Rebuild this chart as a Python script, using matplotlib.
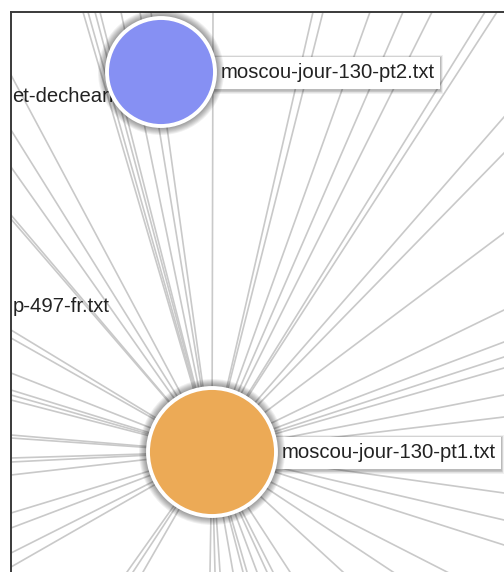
import matplotlib
matplotlib.use("Agg")
import matplotlib.pyplot as plt
from matplotlib.patches import Circle, Rectangle
import numpy as np

# ---------------- data (pixel space of the view) ----------------
node_names = ["moscou-jour-130-pt1.txt", "moscou-jour-130-pt2.txt"]
node_x = [212, 161]
node_y = [452, 72]
node_r = [64, 54]
node_colors = ["#ECAA56", "#8690F3"]

# points where the hub's edges leave the visible frame
top_x = [83, 88, 95, 100, 121, 140, 151, 213, 313, 323, 370, 403, 432, 485, 497]
right_y = [117, 153, 233, 310, 342, 357, 368, 395, 417, 493, 520, 545]
bottom_x = [127, 133, 143, 210, 215, 220, 233, 243, 247, 257, 267, 273, 290, 343, 393, 447]
left_y = [75, 130, 167, 215, 219, 330, 338, 373, 390, 395, 400, 435, 438, 458, 462,
          475, 513, 528, 553, 567]

offscreen_labels = ["et-decheance.txt", "p-497-fr.txt"]
offscreen_label_x = [12, 13]
offscreen_label_y = [97, 306]

# ---------------- figure ----------------
W, H = 504, 572
X0, Y0 = 11, 12
fig = plt.figure(figsize=(W / 100, H / 100), dpi=100)
ax = fig.add_axes([X0 / W, 0, (W - X0) / W, (H - Y0) / H])
ax.set_xlim(X0, W)
ax.set_ylim(H, Y0)
ax.set_xticks([])
ax.set_yticks([])
for s in ["right", "bottom"]:
    ax.spines[s].set_visible(False)
for s in ["left", "top"]:
    ax.spines[s].set_color("#3a3a3a")
    ax.spines[s].set_linewidth(1.4)

font = "Liberation Sans"
fs = 14.6
hx, hy = node_x[0], node_y[0]

targets = ([(x, Y0) for x in top_x] + [(W, y) for y in right_y] +
           [(x, H) for x in bottom_x] + [(X0, y) for y in left_y])
for tx, ty in targets:
    ex = hx + 3 * (tx - hx)
    ey = hy + 3 * (ty - hy)
    ax.plot([hx, ex], [hy, ey], color="#c9c9c9", lw=1.2, zorder=1,
            solid_capstyle="butt")

for lab, lx, ly in zip(offscreen_labels, offscreen_label_x, offscreen_label_y):
    ax.text(lx, ly, lab, fontsize=fs, family=font, color="#222222",
            ha="left", va="center", zorder=2, clip_on=True)

for name, cx, cy, r, col in zip(node_names, node_x, node_y, node_r, node_colors):
    # label box with soft shadow
    tx = cx + r + 6
    t = ax.text(tx, cy + 1, name, fontsize=fs, family=font, color="#222222",
                ha="left", va="center", zorder=6)
    fig.canvas.draw()
    bb = t.get_window_extent().transformed(ax.transData.inverted())
    bx0 = cx
    bx1 = max(bb.x0, bb.x1) + 5
    by0 = cy - 15
    by1 = cy + 17
    for k in range(5, 0, -1):
        ax.add_patch(Rectangle((bx0 - k * 0.5, by0 - k * 0.6 + 1), bx1 - bx0 + k * 1.0,
                               by1 - by0 + k * 1.4, facecolor="black", alpha=0.06,
                               edgecolor="none", zorder=3))
    ax.add_patch(Rectangle((bx0, by0), bx1 - bx0, by1 - by0, facecolor="white",
                           edgecolor="none", zorder=3.5))
    # circle glow shadow
    for k in range(8, 0, -1):
        ax.add_patch(Circle((cx, cy), r + 1 + k, facecolor="black", alpha=0.06,
                            edgecolor="none", zorder=4))
    ax.add_patch(Circle((cx, cy), r, facecolor=col, edgecolor="white", lw=2.8,
                        zorder=5))

fig.savefig("out.png", dpi=100)
